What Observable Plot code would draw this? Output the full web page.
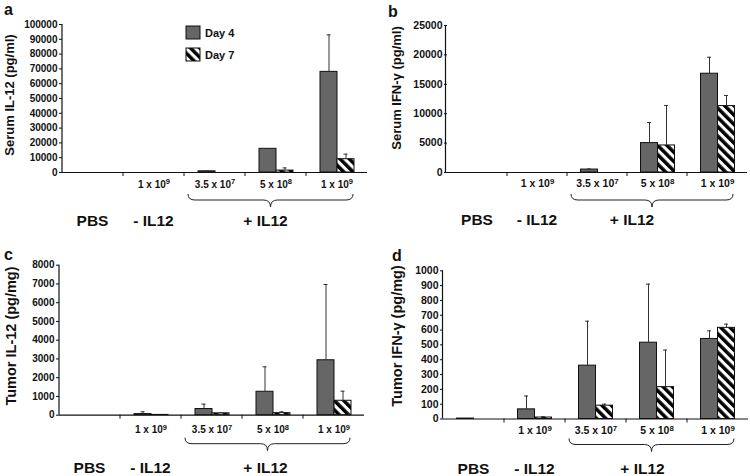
<!DOCTYPE html>
<html><head><meta charset="utf-8">
<script src="https://cdn.jsdelivr.net/npm/d3@7"></script>
<script src="https://cdn.jsdelivr.net/npm/@observablehq/plot@0.6"></script>
<style>
body{margin:0;background:#fff;}
#wrap{position:relative;width:750px;height:476px;overflow:hidden;background:#fff;}
#wrap > svg{position:absolute;}
</style></head><body><div id="wrap"></div>
<script>
// ---------- data ----------
const categories = ["PBS", "-IL12 1e9", "+IL12 3.5e7", "+IL12 5e8", "+IL12 1e9"];
const categoryLabels = ["", "1 x 10⁹", "3.5 x 10⁷", "5 x 10⁸", "1 x 10⁹"];
const series = ["Day 4", "Day 7"];
const groupLabels = ["PBS", "- IL12", "+ IL12"];

// a: Serum IL-12 (pg/ml)
const serumIL12Day4 = [0, 0, 800, 16000, 68000];
const serumIL12Day4Err = [0, 0, 200, 0, 25000];
const serumIL12Day7 = [0, 0, 0, 1300, 9000];
const serumIL12Day7Err = [0, 0, 0, 1800, 3400];
const serumIL12Ticks = [0, 10000, 20000, 30000, 40000, 50000, 60000, 70000, 80000, 90000, 100000];

// b: Serum IFN-γ (pg/ml)
const serumIFNDay4 = [0, 0, 500, 5000, 16800];
const serumIFNDay4Err = [0, 0, 100, 3500, 2800];
const serumIFNDay7 = [0, 0, 0, 4600, 11300];
const serumIFNDay7Err = [0, 0, 0, 6800, 1800];
const serumIFNTicks = [0, 5000, 10000, 15000, 20000, 25000];

// c: Tumor IL-12 (pg/mg)
const tumorIL12Day4 = [0, 60, 330, 1250, 2930];
const tumorIL12Day4Err = [0, 120, 260, 1330, 4040];
const tumorIL12Day7 = [0, 15, 100, 110, 770];
const tumorIL12Day7Err = [0, 0, 30, 70, 510];
const tumorIL12Ticks = [0, 1000, 2000, 3000, 4000, 5000, 6000, 7000, 8000];

// d: Tumor IFN-γ (pg/mg)
const tumorIFNDay4 = [3, 65, 360, 515, 540];
const tumorIFNDay4Err = [0, 90, 300, 395, 55];
const tumorIFNDay7 = [0, 10, 90, 215, 615];
const tumorIFNDay7Err = [0, 5, 10, 250, 25];
const tumorIFNTicks = [0, 100, 200, 300, 400, 500, 600, 700, 800, 900, 1000];

// ---------- style ----------
const FONT = "'Liberation Sans', Arial, Helvetica, sans-serif";
const GRAY = "#666666";
const INK = "#111";
const SUP = {"⁷": "7", "⁸": "8", "⁹": "9"};

const wrap = d3.select("#wrap");
// shared hatch pattern
const defsSvg = wrap.append("svg").attr("width", 0).attr("height", 0).style("left", "0px").style("top", "0px");
const pat = defsSvg.append("defs").append("pattern")
  .attr("id", "hatch").attr("patternUnits", "userSpaceOnUse")
  .attr("width", 6.6).attr("height", 6.6).attr("patternTransform", "rotate(-45)");
pat.append("rect").attr("width", 6.6).attr("height", 6.6).attr("fill", "#fff");
pat.append("rect").attr("width", 3.5).attr("height", 6.6).attr("fill", "#000");

function makePanel(cfg) {
  const rows = [];
  categories.forEach((c, i) => {
    rows.push({cat: c, series: series[0], value: cfg.day4[i], err: cfg.day4Err[i], hi: cfg.day4[i] + cfg.day4Err[i]});
    rows.push({cat: c, series: series[1], value: cfg.day7[i], err: cfg.day7Err[i], hi: cfg.day7[i] + cfg.day7Err[i]});
  });
  const ticks = cfg.ticks;
  const ymax = ticks[ticks.length - 1];
  const chart = Plot.plot({
    width: 375, height: 238,
    marginLeft: cfg.ml, marginRight: cfg.mr, marginTop: cfg.mt, marginBottom: cfg.mb,
    style: {fontFamily: FONT, fontWeight: "bold", fontSize: cfg.fs + "px", color: INK, background: "transparent", overflow: "visible"},
    facet: {data: rows, x: "cat"},
    fx: {domain: categories, padding: 0, axis: "bottom", label: null, tickSize: 0, tickPadding: cfg.catPad,
         tickFormat: d => categoryLabels[categories.indexOf(d)]},
    x: {domain: series, paddingInner: 0, paddingOuter: 0.7, axis: null},
    y: {domain: [0, ymax], ticks: ticks, tickFormat: d => String(d), tickSize: 3, tickPadding: 2, label: null, nice: false},
    marks: [
      Plot.barY(rows, {filter: d => d.series === series[0] && d.value > 0, x: "series", y: "value", fill: GRAY, stroke: INK, strokeWidth: 1}),
      Plot.barY(rows, {filter: d => d.series === series[1] && d.value > 0, x: "series", y: "value", fill: "url(#hatch)", stroke: INK, strokeWidth: 1}),
      Plot.ruleX(rows, {filter: d => d.err > 0, x: "series", y1: "value", y2: "hi", stroke: "#333", strokeWidth: 1}),
      Plot.tickY(rows, {filter: d => d.err > 0, x: "series", y: "hi", stroke: "#333", strokeWidth: 1, insetLeft: 6.5, insetRight: 6.5}),
      Plot.ruleY([0], {stroke: INK, strokeWidth: 1.2})
    ]
  });
  const svg = d3.select(chart).style("left", cfg.left + "px").style("top", cfg.top + "px");
  wrap.node().appendChild(chart);

  // superscript exponents in the category axis labels
  svg.selectAll("text").each(function () {
    const t = this.textContent;
    if (t && categoryLabels.indexOf(t) > 0 && SUP[t.slice(-1)]) {
      const base = t.slice(0, -1), sup = SUP[t.slice(-1)];
      const el = d3.select(this);
      el.text(base);
      el.append("tspan").attr("dy", "-0.42em").style("font-size", "0.75em").text(sup);
    }
  });

  const fx = chart.scale("fx"), y = chart.scale("y");
  const bw = fx.bandwidth;
  const start = c => fx.apply(c);
  const y0 = y.apply(0), yTop = y.apply(ymax);
  const g = svg.append("g").attr("fill", INK).attr("stroke", "none").attr("text-anchor", "start")
    .style("font-family", FONT).style("font-weight", "bold");

  // y axis line
  g.append("line").attr("x1", cfg.ml).attr("x2", cfg.ml).attr("y1", y0).attr("y2", yTop)
    .attr("stroke", INK).attr("stroke-width", 1.2);
  // category boundary ticks
  categories.forEach((c, i) => {
    if (i === 0) return;
    g.append("line").attr("x1", start(c)).attr("x2", start(c)).attr("y1", y0).attr("y2", y0 + 4)
      .attr("stroke", INK).attr("stroke-width", 1);
  });
  // brace under the +IL12 doses
  const bx1 = start(categories[2]) + 4, bx2 = start(categories[4]) + bw - 14;
  const bm = (bx1 + bx2) / 2, t = y0 + cfg.braceTop, mid = t + 6, tip = t + 13, r = 7;
  g.append("path")
    .attr("d", `M${bx1},${t} Q${bx1},${mid} ${bx1 + r},${mid} L${bm - r},${mid} Q${bm},${mid} ${bm},${tip} Q${bm},${mid} ${bm + r},${mid} L${bx2 - r},${mid} Q${bx2},${mid} ${bx2},${t}`)
    .attr("fill", "none").attr("stroke", "#222").attr("stroke-width", 1);
  // group labels
  const gy = y0 + cfg.groupDy;
  const gpos = [start(categories[0]) + bw / 2, start(categories[1]) + bw / 2, bm + cfg.plusDx];
  groupLabels.forEach((lab, i) => {
    g.append("text").attr("x", gpos[i]).attr("y", gy).attr("dy", "0.35em").attr("text-anchor", "middle")
      .style("font-size", "15.5px").text(lab);
  });
  // y title
  g.append("text").attr("transform", `translate(${cfg.titleX},${cfg.titleY}) rotate(-90)`)
    .attr("dy", "0.35em").attr("text-anchor", "middle").style("font-size", cfg.titleFs + "px").text(cfg.title);
  // panel letter
  g.append("text").attr("x", cfg.letterX).attr("y", cfg.letterY).attr("text-anchor", "start")
    .style("font-size", "16px").text(cfg.letter);

  if (cfg.legend) {
    const lg = g.append("g");
    series.forEach((s, i) => {
      lg.append("rect").attr("x", 186).attr("y", 26 + i * 22).attr("width", 14).attr("height", 13)
        .attr("fill", i === 0 ? GRAY : "url(#hatch)").attr("stroke", INK).attr("stroke-width", 1);
      lg.append("text").attr("x", 205).attr("y", 33 + i * 22).attr("dy", "0.35em").attr("text-anchor", "start")
        .style("font-size", "11px").text(s);
    });
  }
}

makePanel({letter: "a", left: 0, top: 0, ml: 62, mr: 8, mt: 24, mb: 66, fs: 10,
  day4: serumIL12Day4, day4Err: serumIL12Day4Err, day7: serumIL12Day7, day7Err: serumIL12Day7Err, ticks: serumIL12Ticks,
  title: "Serum IL-12 (pg/ml)", titleX: 9, titleY: 95, titleFs: 13, letterX: 4, letterY: 15,
  catPad: 8, braceTop: 22, groupDy: 49, plusDx: -5, legend: true});
makePanel({letter: "b", left: 375, top: 0, ml: 70.5, mr: 2, mt: 25, mb: 66, fs: 10.5,
  day4: serumIFNDay4, day4Err: serumIFNDay4Err, day7: serumIFNDay7, day7Err: serumIFNDay7Err, ticks: serumIFNTicks,
  title: "Serum IFN-γ (pg/ml)", titleX: 21, titleY: 88, titleFs: 13, letterX: 13, letterY: 17,
  catPad: 7, braceTop: 22, groupDy: 48, plusDx: -20, legend: false});
makePanel({letter: "c", left: 0, top: 238, ml: 59, mr: 11, mt: 26.7, mb: 61.3, fs: 10,
  day4: tumorIL12Day4, day4Err: tumorIL12Day4Err, day7: tumorIL12Day7, day7Err: tumorIL12Day7Err, ticks: tumorIL12Ticks,
  title: "Tumor IL-12 (pg/mg)", titleX: 11, titleY: 98, titleFs: 14.5, letterX: 4, letterY: 22,
  catPad: 11, braceTop: 23, groupDy: 53, plusDx: -2, legend: false});
makePanel({letter: "d", left: 375, top: 238, ml: 67.5, mr: 2.5, mt: 32.3, mb: 57.5, fs: 10.5,
  day4: tumorIFNDay4, day4Err: tumorIFNDay4Err, day7: tumorIFNDay7, day7Err: tumorIFNDay7Err, ticks: tumorIFNTicks,
  title: "Tumor IFN-γ (pg/mg)", titleX: 22, titleY: 98, titleFs: 14.5, letterX: 17, letterY: 23,
  catPad: 8, braceTop: 20, groupDy: 50, plusDx: -9, legend: false});
</script>
</body></html>
